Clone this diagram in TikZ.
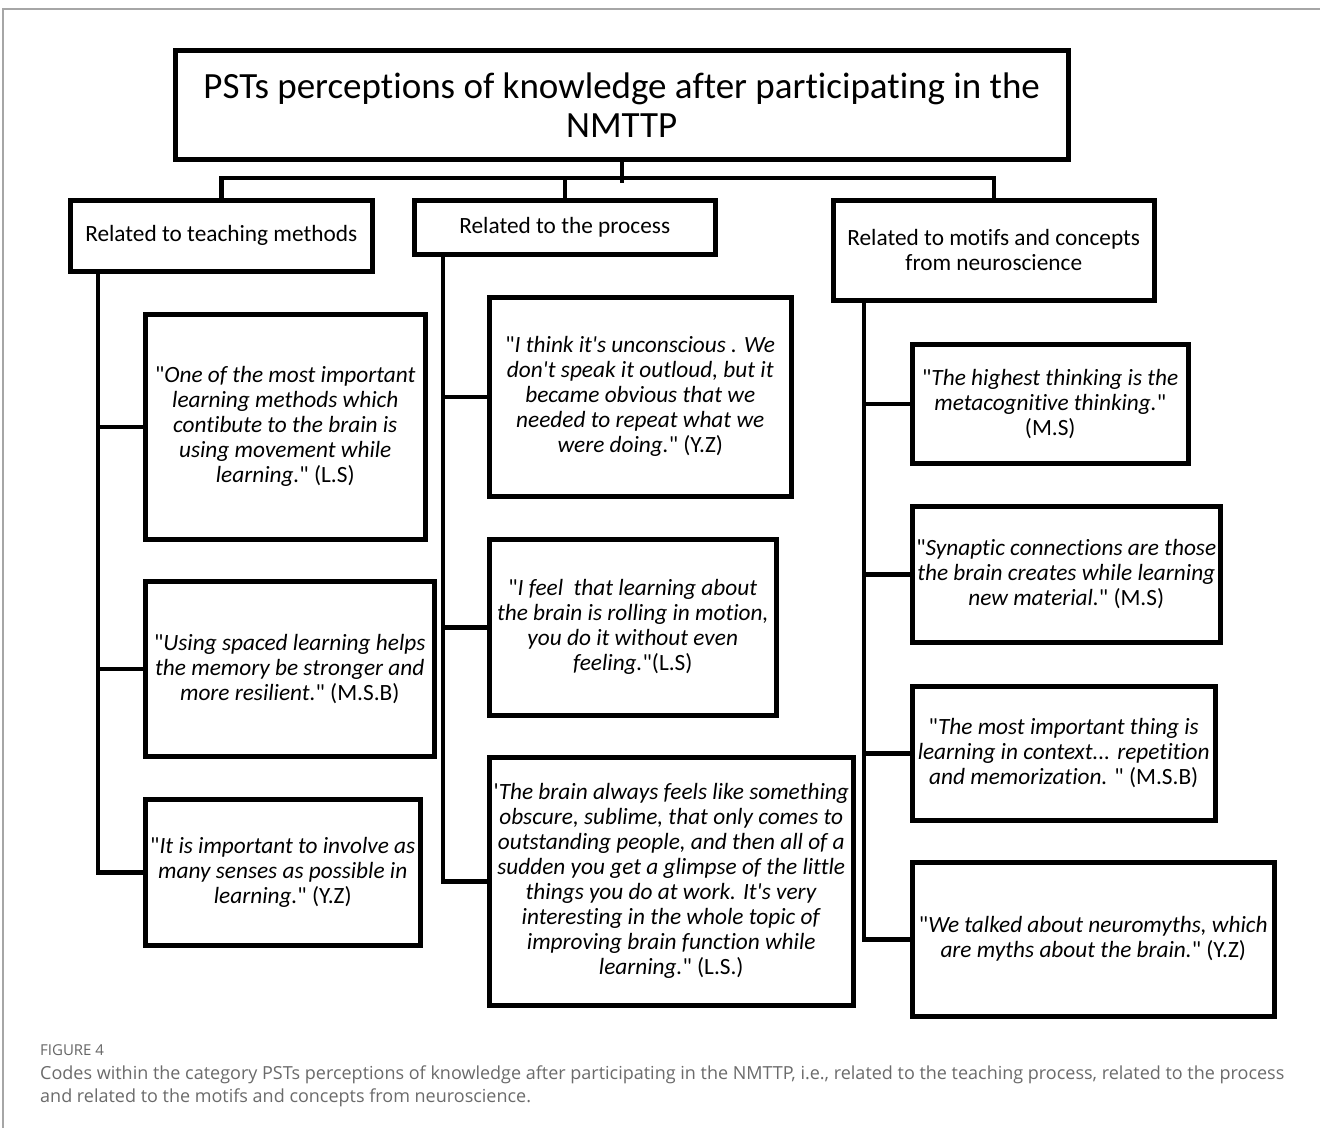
\documentclass[tikz,border=0pt]{standalone}
\usepackage{fontspec}
\newfontfamily\calfont{Carlito}[Ligatures=NoCommon]
\newfontfamily\capfont{Open Sans}
\newcommand\qt[1]{\textit{#1}}
\tikzset{
  box/.style={draw, line width=4.5pt, inner sep=0pt, align=center, anchor=north west,
    font=\calfont\fontsize{23.3}{25}\selectfont},
  conn/.style={draw, line width=4.5pt, line join=miter}
}
\begin{document}
\begin{tikzpicture}[x=1pt,y=-1pt]
\useasboundingbox (0,0) rectangle (1320,1128);
\fill[white] (0,0) rectangle (1320,1128);
\draw[black!35, line width=1.5pt] (3,1128) |- (1320,9);

% title and headings
\node[box, minimum width=893, minimum height=109, font=\calfont\fontsize{37}{39}\selectfont] (title) at (173,48)
  {PSTs perceptions of knowledge after participating in the\\NMTTP};
\node[box, minimum width=302, minimum height=71] (h1) at (68,198) {Related to teaching methods};
\node[box, minimum width=301, minimum height=54] (h2) at (412,198) {Related to the process};
\node[box, minimum width=321, minimum height=100] (h3) at (831,198) {Related to motifs and concepts\\from neuroscience};

% left column
\node[box, minimum width=280, minimum height=225] (L1) at (143,312)
  {"\qt{One of the most important}\\\qt{learning methods which}\\\qt{contibute to the brain is}\\\qt{using movement while}\\\qt{learning.}" (L.S)};
\node[box, minimum width=289, minimum height=175] (L2) at (143,579)
  {"\qt{Using spaced learning helps}\\\qt{the memory be stronger and}\\\qt{more resilient.}" (M.S.B)};
\node[box, minimum width=275, minimum height=146] (L3) at (143,797)
  {"\qt{It is important to involve as}\\\qt{many senses as possible in}\\\qt{learning.}" (Y.Z)};

% middle column
\node[box, minimum width=302, minimum height=199] (M1) at (487,295)
  {"\qt{I think it's unconscious . We}\\\qt{don't speak it outloud, but it}\\\qt{became obvious that we}\\\qt{needed to repeat what we}\\\qt{were doing.}" (Y.Z)};
\node[box, minimum width=287, minimum height=176] (M2) at (487,537)
  {"\qt{I feel\ \ that learning about}\\\qt{the brain is rolling in motion,}\\\qt{you do it without even}\\\qt{feeling.}"(L.S)};
\node[box, minimum width=364, minimum height=248] (M3) at (487,755)
  {'\qt{The brain always feels like something}\\\qt{obscure, sublime, that only comes to}\\\qt{outstanding people, and then all of a}\\\qt{sudden you get a glimpse of the little}\\\qt{things you do at work. It's very}\\\qt{interesting in the whole topic of}\\\qt{improving brain function while}\\\qt{learning.}" (L.S.)};

% right column
\node[box, minimum width=276, minimum height=119] (R1) at (910,342)
  {"\qt{The highest thinking is the}\\\qt{metacognitive thinking.}"\\(M.S)};
\node[box, minimum width=308, minimum height=136] (R2) at (910,504)
  {"\qt{Synaptic connections are those}\\\qt{the brain creates while learning}\\\qt{new material.}" (M.S)};
\node[box, minimum width=303, minimum height=134] (R3) at (910,684)
  {"\qt{The most important thing is}\\\qt{learning in context... repetition}\\\qt{and memorization.} " (M.S.B)};
\node[box, minimum width=362, minimum height=154] (R4) at (910,860)
  {"\qt{We talked about neuromyths, which}\\\qt{are myths about the brain.}" (Y.Z)};

% top connectors
\draw[conn] (title.south) -- ++(0,21);
\draw[conn] (h1.north) -- ++(0,-20) -| (h3.north);
\draw[conn] (h2.north) -- ++(0,-20);

% spines
\coordinate (sL) at (98,0);
\coordinate (sM) at (443,0);
\coordinate (sR) at (864,0);
\draw[conn] (h1.south -| sL) |- (L3.west);
\draw[conn] (L1.west -| sL) -- (L1.west);
\draw[conn] (L2.west -| sL) -- (L2.west);
\draw[conn] (h2.south -| sM) |- (M3.west);
\draw[conn] (M1.west -| sM) -- (M1.west);
\draw[conn] (M2.west -| sM) -- (M2.west);
\draw[conn] (h3.south -| sR) |- (R4.west);
\draw[conn] (R1.west -| sR) -- (R1.west);
\draw[conn] (R2.west -| sR) -- (R2.west);
\draw[conn] (R3.west -| sR) -- (R3.west);

% caption
\node[anchor=base west, inner sep=0pt, text=black!60, font=\capfont\fontsize{15}{17}\selectfont] (fig) at (40,1055) {FIGURE 4};
\node[anchor=north west, inner sep=0pt, align=left, text=black!58, font=\capfont\fontsize{18}{23}\selectfont] (cap) at (40,1066)
  {Codes within the category PSTs perceptions of knowledge after participating in the NMTTP, i.e., related to the teaching process, related to the process\\and related to the motifs and concepts from neuroscience.};
\end{tikzpicture}
\end{document}
